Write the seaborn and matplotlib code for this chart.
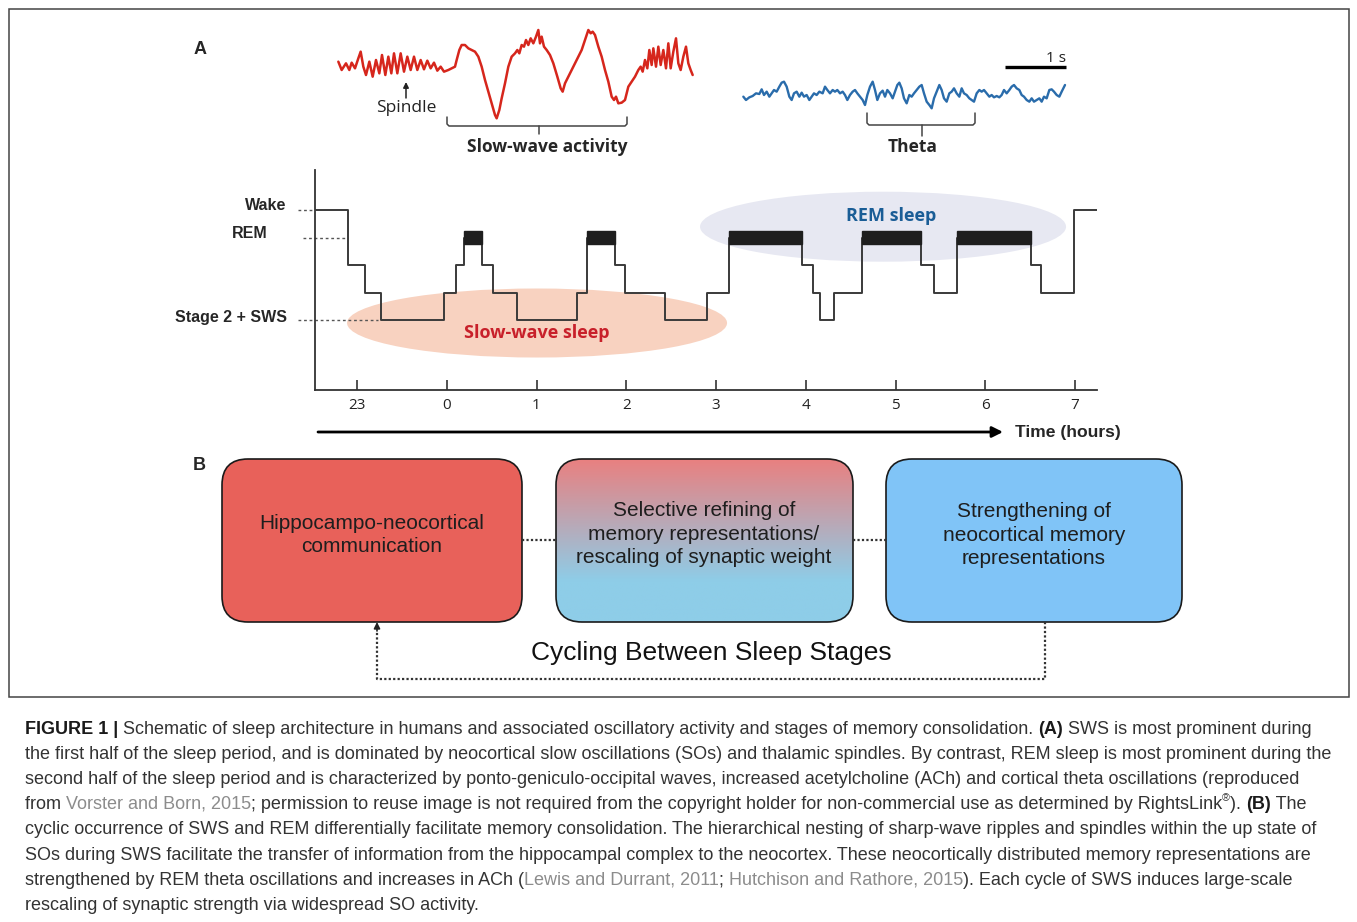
import numpy as np
import pandas as pd
import matplotlib
matplotlib.use("Agg")
import matplotlib.pyplot as plt
import seaborn as sns
from matplotlib.patches import Ellipse, FancyBboxPatch, Rectangle
from matplotlib.colors import to_rgb

# ---------------- data ----------------
# hypnogram: epoch start times (hours after midnight, 23:00 = -1) and sleep stage
hyp_times = [-1.468, -1.10, -0.91, -0.73, -0.03, 0.10, 0.19, 0.39, 0.51, 0.78, 1.45,
             1.56, 1.87, 1.99, 2.43, 2.90, 3.15, 3.96, 4.08, 4.16, 4.32, 4.63, 5.28,
             5.43, 5.68, 6.51, 6.62, 6.99, 7.245]
hyp_stages = ["Wake", "S1", "S2", "SWS", "S2", "S1", "REM", "S1", "S2", "SWS", "S2",
              "REM", "S1", "S2", "SWS", "S2", "REM", "S1", "S2", "SWS", "S2", "REM",
              "S1", "S2", "REM", "S1", "S2", "Wake"]
stage_level = {"SWS": 0, "S2": 1, "S1": 2, "REM": 3, "Wake": 4}
hour_ticks = [-1, 0, 1, 2, 3, 4, 5, 6, 7]
hour_labels = ["23", "0", "1", "2", "3", "4", "5", "6", "7"]

# EEG traces (x: 1/183 s units, y: amplitude, down = positive)
red_x = [55, 65, 78, 88, 95, 105, 115, 122, 130, 138, 148, 158, 168, 178, 186, 196, 205, 214,
         222, 232, 242, 252, 262, 272, 282, 292, 302, 312, 322, 332, 342, 352, 362, 372, 385,
         395, 405,
         410, 418, 425, 435, 445, 455, 465, 475, 485, 495, 505, 515, 525, 530, 538, 545, 555,
         565, 575, 585, 592, 598, 605, 612, 618, 625, 632, 640, 648, 655, 660, 665, 672, 680,
         690, 700, 712, 722, 728, 735, 745, 755, 765, 775, 785, 795, 805, 812, 818, 825, 835,
         845, 855, 865, 875, 882, 888, 895, 905, 915, 925, 935, 945, 955, 962, 968, 975, 982,
         988, 995, 1000, 1008, 1015, 1022, 1030, 1038, 1045, 1052, 1060, 1068, 1075, 1082,
         1090, 1098, 1105, 1112, 1118]
red_y = [125, 150, 130, 150, 128, 145, 115, 95, 140, 165, 125, 170, 120, 160, 105, 165, 110, 160,
         100, 160, 100, 155, 110, 150, 110, 150, 120, 148, 122, 145, 128, 152, 140, 155, 150,
         145, 140,
         120, 90, 75, 75, 85, 90, 95, 110, 140, 180, 215, 250, 285, 295, 270, 235, 190,
         140, 110, 100, 90, 100, 75, 80, 60, 75, 55, 70, 50, 30, 70, 50, 80, 90,
         105, 130, 170, 205, 215, 190, 170, 150, 130, 110, 90, 60, 30, 40, 35, 45, 80,
         110, 150, 185, 230, 240, 230, 250, 248, 240, 200, 185, 170, 150, 140, 155, 120, 145,
         90, 135, 85, 140, 80, 135, 90, 145, 70, 145, 95, 55, 130, 150,
         110, 80, 130, 150, 165]
blue_x = [40, 48, 58, 68, 78, 88, 95, 102, 110, 118, 125, 132, 140, 148, 155, 162, 170, 178, 185,
          192, 200, 208, 215, 222, 230, 238, 245, 252, 260, 268, 278, 285, 292, 300, 308, 315,
          322, 330, 338, 345, 352, 360, 368, 375, 382, 390, 398, 405, 412, 420, 428, 435, 442,
          450, 458, 465, 472, 480, 488, 495, 502, 508, 515, 522, 530, 538, 545, 552, 560, 568,
          575, 582, 590, 598, 605, 612, 620, 628, 635, 642, 650, 658, 665, 672, 680, 688, 695,
          702, 710, 718, 725, 732, 740, 748, 755, 762, 770, 778, 785, 792, 800, 808, 815, 822,
          830, 838, 845, 852, 860, 868, 875, 882, 890, 898, 905, 912, 920, 928, 935, 942, 950,
          958, 965, 972, 980, 988, 995, 1005]
blue_y = [170, 180, 172, 168, 160, 162, 148, 165, 155, 170, 160, 150, 155, 140, 128, 125, 140, 170,
          180, 160, 155, 170, 158, 170, 165, 180, 170, 160, 165, 155, 160, 140, 150, 160, 150,
          155, 150, 160, 155, 165, 180, 165, 155, 150, 160, 170, 180, 195, 165, 140, 125, 150,
          180, 160, 152, 170, 150, 160, 175, 155, 135, 128, 145, 175, 190, 165, 170, 160, 150,
          140, 135, 160, 185, 195, 205, 175, 155, 135, 150, 175, 185, 160, 155, 145, 160, 170,
          145, 160, 165, 175, 180, 185, 160, 150, 155, 150, 160, 170, 165, 172, 168, 172, 165,
          150, 160, 150, 140, 135, 145, 150, 165, 170, 180, 185, 175, 185, 180, 175, 185, 170,
          175, 150, 148, 155, 165, 170, 155, 135]

box_texts = ["Hippocampo-neocortical\ncommunication",
             "Selective refining of\nmemory representations/\nrescaling of synaptic weight",
             "Strengthening of\nneocortical memory\nrepresentations"]
box_colors = ["#e8615a", None, "#80c4f7"]

caption_lines = [
    [("FIGURE 1 | ", "b"), ("Schematic of sleep architecture in humans and associated oscillatory activity and stages of memory consolidation. ", "n"), ("(A)", "b"), (" SWS is most prominent during", "n")],
    [("the first half of the sleep period, and is dominated by neocortical slow oscillations (SOs) and thalamic spindles. By contrast, REM sleep is most prominent during the", "n")],
    [("second half of the sleep period and is characterized by ponto-geniculo-occipital waves, increased acetylcholine (ACh) and cortical theta oscillations (reproduced", "n")],
    [("from ", "n"), ("Vorster and Born, 2015", "g"), ("; permission to reuse image is not required from the copyright holder for non-commercial use as determined by RightsLink", "n"), ("®", "s"), ("). ", "n"), ("(B)", "b"), (" The", "n")],
    [("cyclic occurrence of SWS and REM differentially facilitate memory consolidation. The hierarchical nesting of sharp-wave ripples and spindles within the up state of", "n")],
    [("SOs during SWS facilitate the transfer of information from the hippocampal complex to the neocortex. These neocortically distributed memory representations are", "n")],
    [("strengthened by REM theta oscillations and increases in ACh (", "n"), ("Lewis and Durrant, 2011", "g"), ("; ", "n"), ("Hutchison and Rathore, 2015", "g"), ("). Each cycle of SWS induces large-scale", "n")],
    [("rescaling of synaptic strength via widespread SO activity.", "n")],
]

# ---------------- figure ----------------
W, H = 1357, 922
sns.set_theme(style="white")
plt.rcParams["font.family"] = ["Liberation Sans", "DejaVu Sans"]
MY = ["Open Sans", "DejaVu Sans"]

fig = plt.figure(figsize=(W / 100, H / 100), dpi=100)
fig.patch.set_facecolor("white")


def px_axes(x0, y0, x1, y1):
    a = fig.add_axes([x0 / W, 1 - y1 / H, (x1 - x0) / W, (y1 - y0) / H])
    a.patch.set_alpha(0)
    return a


ax = fig.add_axes([0, 0, 1, 1])
ax.set_xlim(0, W)
ax.set_ylim(H, 0)
ax.axis("off")

# frame around panels
ax.add_patch(Rectangle((8.5, 9), 1340, 688, fill=False, ec="#444444", lw=1.1))
ax.text(200, 50, "A", fontsize=13, fontweight="bold", ha="center", va="center")
ax.text(199, 465, "B", fontsize=13, fontweight="bold", ha="center", va="center")

# ---------------- hypnogram ----------------
axh = px_axes(315, 170, 1097, 390)
axh.set_xlim(-1.468, 7.245)
axh.set_ylim(-2.545, 5.455)

axh.add_patch(Ellipse((1.006, -0.109), 4.234, 2.51, color="#f8d2c0", lw=0, zorder=0))
axh.add_patch(Ellipse((4.861, 3.393), 4.078, 2.545, color="#e7e8f2", lw=0, zorder=0))

levels = [stage_level[s] for s in hyp_stages] + [stage_level[hyp_stages[-1]]]
hyp_df = pd.DataFrame({"time": hyp_times, "level": levels})
sns.lineplot(data=hyp_df, x="time", y="level", drawstyle="steps-post", estimator=None,
             color="#3a3a3a", lw=1.4, ax=axh, zorder=3)
for i, s in enumerate(hyp_stages):
    if s == "REM":
        axh.bar(x=hyp_times[i], height=0.5, width=hyp_times[i + 1] - hyp_times[i], bottom=2.75,
                align="edge", color="#1e1e1e", ec="#1e1e1e", lw=1, zorder=4)

for x0, x1, lv in [(-1.657, -1.468, 4), (-1.602, -1.10, 3), (-1.657, -0.766, 0)]:
    axh.plot([x0, x1], [lv, lv], ls=(0, (2, 2)), lw=1, color="#555555", clip_on=False, zorder=2)
axh.text(-1.791, 4.16, "Wake", ha="right", va="center", fontsize=11.5, fontweight="bold")
axh.text(-1.997, 3.16, "REM", ha="right", va="center", fontsize=11.5, fontweight="bold")
axh.text(-1.780, 0.08, "Stage 2 + SWS", ha="right", va="center", fontsize=11.5, fontweight="bold")

axh.text(1.006, -0.473, "Slow-wave sleep", ha="center", va="center", fontsize=13,
         fontweight="bold", color="#c8202a", family=MY, zorder=5)
axh.text(4.95, 3.78, "REM sleep", ha="center", va="center", fontsize=13,
         fontweight="bold", color="#1a5d96", family=MY, zorder=5)

for side in ["top", "right"]:
    axh.spines[side].set_visible(False)
for side in ["left", "bottom"]:
    axh.spines[side].set_color("#333333")
    axh.spines[side].set_linewidth(1.3)
axh.set_yticks([])
axh.set_xticks(hour_ticks)
axh.set_xticklabels(hour_labels, family=MY, fontsize=11, color="#222222")
axh.tick_params(axis="x", direction="in", length=7, width=1.2, color="#333333", pad=6, bottom=True)
axh.set_xlabel("")
axh.set_ylabel("")

# time arrow
ax.annotate("", xy=(1003, 432), xytext=(318, 432),
            arrowprops=dict(arrowstyle="-|>", lw=2, color="black", mutation_scale=16,
                            shrinkA=0, shrinkB=0))
ax.text(1015, 432, "Time (hours)", ha="left", va="center", fontsize=12.6, fontweight="bold")

# ---------------- EEG traces ----------------
axe = px_axes(320, 20, 1090, 140)
axe.set_xlim(0, 770 / 61)
axe.set_ylim(120, 0)
axe.axis("off")
red_df = pd.DataFrame({"t": np.array(red_x) / 183, "v": np.array(red_y) / 3})
blue_df = pd.DataFrame({"t": (410 + np.array(blue_x) / 3) / 61, "v": 20 + np.array(blue_y) / 3})
sns.lineplot(data=red_df, x="t", y="v", sort=False, estimator=None, color="#d6261c", lw=1.8, ax=axe)
sns.lineplot(data=blue_df, x="t", y="v", sort=False, estimator=None, color="#2a6cab", lw=1.7, ax=axe)
axe.set_xlim(0, 770 / 61)
axe.set_ylim(120, 0)

# brackets and labels (panel coordinates in pixels)
def bracket(x0, x1, ytop, ybot, xc, ytick):
    ax.plot([x0, x0, x0 + 2, x1 - 2, x1, x1], [ytop, ybot - 2, ybot, ybot, ybot - 2, ytop],
            color="#444444", lw=1.1)
    ax.plot([xc, xc], [ybot, ytick], color="#444444", lw=1.1)

bracket(447, 627, 117, 126, 539, 134)
bracket(867, 975, 113, 125, 922, 136)
ax.text(547, 147, "Slow-wave activity", ha="center", va="center", fontsize=12.5,
        fontweight="bold", family=MY)
ax.text(913, 147, "Theta", ha="center", va="center", fontsize=12.5, fontweight="bold", family=MY)
ax.annotate("", xy=(406, 82), xytext=(406, 98),
            arrowprops=dict(arrowstyle="-|>", lw=1.1, color="#222222", mutation_scale=8,
                            shrinkA=0, shrinkB=0))
ax.text(406, 108, "Spindle", ha="center", va="center", fontsize=12.5, family=MY, color="#222222")
ax.plot([1005, 1066], [67.5, 67.5], color="black", lw=2.4, solid_capstyle="butt")
ax.text(1056, 58, "1 s", ha="center", va="center", fontsize=11, family=MY, color="#222222")

# ---------------- panel B ----------------
boxes = [(222, 459, 300, 163), (556, 459, 297, 163), (886, 459, 296, 163)]
centers = [(372, 535), (704, 534), (1034, 535)]
for (bx, by, bw, bh), col, txt, (cx, cy) in zip(boxes, box_colors, box_texts, centers):
    patch = FancyBboxPatch((bx, by), bw, bh, boxstyle="round,pad=0,rounding_size=26",
                           fc=col if col else "none", ec="#1a1a1a", lw=1.2, zorder=2)
    ax.add_patch(patch)
    if col is None:
        top = np.array(to_rgb("#e98080"))
        bot = np.array(to_rgb("#8ecde8"))
        n = 200
        f = np.clip(np.linspace(0, 1, n) / 0.75, 0, 1)[:, None]
        grad = (top * (1 - f) + bot * f)[:, None, :].repeat(2, axis=1)
        im = ax.imshow(grad, extent=(bx, bx + bw, by + bh, by), origin="upper",
                       aspect="auto", zorder=1.5, interpolation="bilinear")
        clip = FancyBboxPatch((bx, by), bw, bh, boxstyle="round,pad=0,rounding_size=26",
                              fc="none", ec="none", transform=ax.transData)
        ax.add_patch(clip)
        im.set_clip_path(clip)
    ax.text(cx, cy, txt, ha="center", va="center", fontsize=15, color="#1e1e1e",
            linespacing=1.32, zorder=3)
ax.set_xlim(0, W)
ax.set_ylim(H, 0)

dot = dict(ls=(0, (1, 1)), lw=1.6, color="#333333")
ax.plot([522, 556], [540, 540], **dot)
ax.plot([853, 886], [540, 540], **dot)
ax.plot([1045, 1045, 377, 377], [622, 679, 679, 632], **dot)
ax.annotate("", xy=(377, 622), xytext=(377, 631),
            arrowprops=dict(arrowstyle="-|>", lw=1.2, color="#222222", mutation_scale=9,
                            shrinkA=0, shrinkB=0))
ax.text(711, 653, "Cycling Between Sleep Stages", ha="center", va="center", fontsize=19,
        color="#111111")

# ---------------- caption ----------------
renderer = fig.canvas.get_renderer()
styles = {"n": dict(color="#333333"), "b": dict(color="#1a1a1a", fontweight="bold"),
          "g": dict(color="#8c8c8c"), "s": dict(color="#333333")}


def seg_width(s, size, kind):
    kw = dict(styles[kind])
    sz = size * 0.6 if kind == "s" else size
    t1 = ax.text(0, 0, "|" + s + "|", fontsize=sz, **kw)
    t2 = ax.text(0, 0, "||", fontsize=sz, **kw)
    w = t1.get_window_extent(renderer).width - t2.get_window_extent(renderer).width
    t1.remove()
    t2.remove()
    return w


base = 12.0
w2 = sum(seg_width(s, base, k) for s, k in caption_lines[1])
cap_size = base * (1336 - 25) / w2
line_y = [729, 754, 779, 804, 829, 855, 880, 905]
for segs, yy in zip(caption_lines, line_y):
    x = 25
    for s, k in segs:
        sz = cap_size * 0.6 if k == "s" else cap_size
        dy = -6 if k == "s" else 0
        ax.text(x, yy + dy, s, fontsize=sz, ha="left", va="center", **styles[k])
        x += seg_width(s, cap_size, k)

fig.savefig("out.png", dpi=100, facecolor="white")
